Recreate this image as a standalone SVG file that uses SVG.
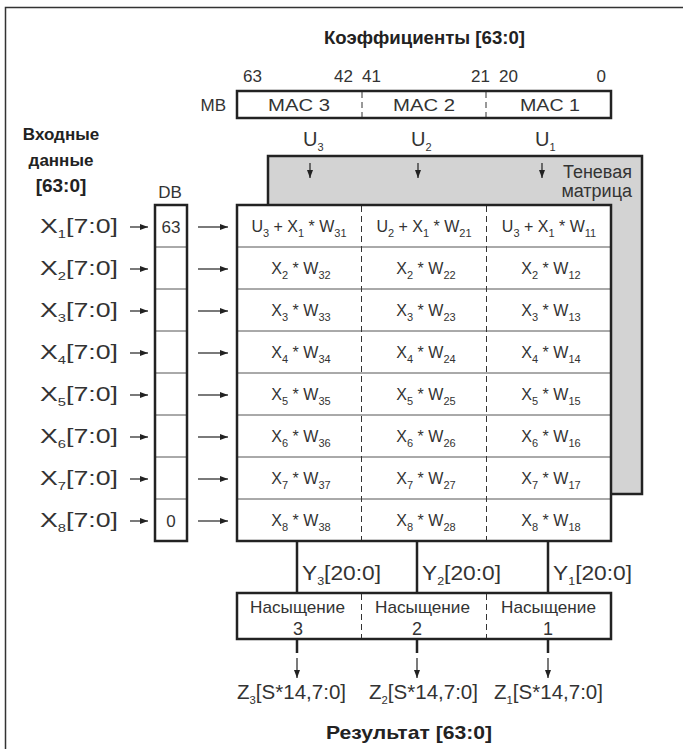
<svg xmlns="http://www.w3.org/2000/svg" width="683" height="749" viewBox="0 0 683 749">
<defs>
<marker id="ah" markerWidth="8" markerHeight="6" refX="8" refY="3" orient="auto" markerUnits="userSpaceOnUse">
<path d="M0,0 L8,3 L0,6 Z" fill="#222"/>
</marker>
<style>
text{font-family:"Liberation Sans",Arial,sans-serif;fill:#333;}
.t{font-size:17px;}
.c{font-size:16px;text-anchor:middle;}
.l{font-size:20px;}
.b{font-size:18px;font-weight:bold;fill:#222;}
.s{font-size:11px;}
.thick{fill:none;stroke:#222;stroke-width:2.5;}
.thin{stroke:#555;stroke-width:1;fill:none;}
.dash{stroke:#333;stroke-width:1;stroke-dasharray:6,4;fill:none;}
.arr{stroke:#222;stroke-width:1.2;fill:none;marker-end:url(#ah);}
</style>
</defs>
<rect width="683" height="749" fill="#fff"/>
<path d="M5.5,749 V7.5 H683" fill="none" stroke="#333" stroke-width="1.5"/>

<g id="title">
<text class="b" x="324" y="44" textLength="201" lengthAdjust="spacingAndGlyphs">Коэффициенты [63:0]</text>
</g>

<g id="mb">
<text class="t" x="243" y="82">63</text>
<text class="t" x="353" y="82" text-anchor="end">42</text>
<text class="t" x="362" y="82">41</text>
<text class="t" x="490" y="82" text-anchor="end">21</text>
<text class="t" x="499" y="82">20</text>
<text class="t" x="606" y="82" text-anchor="end">0</text>
<text class="t" x="226" y="111" text-anchor="end">MB</text>
<rect class="thick" x="237" y="91" width="374" height="27"/>
<line class="dash" x1="362" y1="92" x2="362" y2="117"/>
<line class="dash" x1="486" y1="92" x2="486" y2="117"/>
<text class="t" x="268" y="111" textLength="62" lengthAdjust="spacingAndGlyphs">MAC 3</text>
<text class="t" x="393" y="111" textLength="62" lengthAdjust="spacingAndGlyphs">MAC 2</text>
<text class="t" x="520" y="111" textLength="60" lengthAdjust="spacingAndGlyphs">MAC 1</text>
</g>

<g id="inlabel">
<text class="b" x="61" y="140" text-anchor="middle" style="font-size:17px">Входные</text>
<text class="b" x="61" y="166" text-anchor="middle" style="font-size:17px">данные</text>
<text class="b" x="61" y="192" text-anchor="middle" style="font-size:19px">[63:0]</text>
</g>

<g id="ulabels">
<text class="l" x="303" y="146">U<tspan class="s" dy="5">3</tspan></text>
<text class="l" x="411" y="146">U<tspan class="s" dy="5">2</tspan></text>
<text class="l" x="535" y="146">U<tspan class="s" dy="5">1</tspan></text>
</g>

<g id="shadow">
<rect x="268" y="156" width="374" height="338" fill="#d3d3d3" stroke="#222" stroke-width="2.5"/>
<text class="t" x="632" y="178" text-anchor="end" style="font-size:18px">Теневая</text>
<text class="t" x="632" y="197" text-anchor="end" style="font-size:18px">матрица</text>
</g>

<g id="db">
<text class="t" x="170" y="198" text-anchor="middle">DB</text>
<rect x="155" y="205" width="32" height="336" fill="#fff"/>
<path class="thin" d="M155,247H187M155,289H187M155,331H187M155,373H187M155,415H187M155,457H187M155,499H187"/>
<rect class="thick" x="155" y="205" width="32" height="336"/>
<text class="t" x="171" y="233" text-anchor="middle">63</text>
<text class="t" x="171" y="527" text-anchor="middle">0</text>
</g>

<g id="matrix">
<rect x="237" y="205" width="374" height="336" fill="#fff"/>
<path class="thin" d="M237,247H611M237,289H611M237,331H611M237,373H611M237,415H611M237,457H611M237,499H611"/>
<line class="dash" x1="361.5" y1="206" x2="361.5" y2="540"/>
<line class="dash" x1="486.5" y1="206" x2="486.5" y2="540"/>
<rect class="thick" x="237" y="205" width="374" height="336"/>
<text class="c" x="299" y="232">U<tspan class="s" dy="5">3</tspan><tspan dy="-5"> + X</tspan><tspan class="s" dy="5">1</tspan><tspan dy="-5"> * W</tspan><tspan class="s" dy="5">31</tspan></text>
<text class="c" x="424" y="232">U<tspan class="s" dy="5">2</tspan><tspan dy="-5"> + X</tspan><tspan class="s" dy="5">1</tspan><tspan dy="-5"> * W</tspan><tspan class="s" dy="5">21</tspan></text>
<text class="c" x="549" y="232">U<tspan class="s" dy="5">3</tspan><tspan dy="-5"> + X</tspan><tspan class="s" dy="5">1</tspan><tspan dy="-5"> * W</tspan><tspan class="s" dy="5">11</tspan></text>

<text class="c" x="301" y="274">X<tspan class="s" dy="5">2</tspan><tspan dy="-5"> * W</tspan><tspan class="s" dy="5">32</tspan></text>
<text class="c" x="426" y="274">X<tspan class="s" dy="5">2</tspan><tspan dy="-5"> * W</tspan><tspan class="s" dy="5">22</tspan></text>
<text class="c" x="551" y="274">X<tspan class="s" dy="5">2</tspan><tspan dy="-5"> * W</tspan><tspan class="s" dy="5">12</tspan></text>

<text class="c" x="301" y="316">X<tspan class="s" dy="5">3</tspan><tspan dy="-5"> * W</tspan><tspan class="s" dy="5">33</tspan></text>
<text class="c" x="426" y="316">X<tspan class="s" dy="5">3</tspan><tspan dy="-5"> * W</tspan><tspan class="s" dy="5">23</tspan></text>
<text class="c" x="551" y="316">X<tspan class="s" dy="5">3</tspan><tspan dy="-5"> * W</tspan><tspan class="s" dy="5">13</tspan></text>

<text class="c" x="301" y="358">X<tspan class="s" dy="5">4</tspan><tspan dy="-5"> * W</tspan><tspan class="s" dy="5">34</tspan></text>
<text class="c" x="426" y="358">X<tspan class="s" dy="5">4</tspan><tspan dy="-5"> * W</tspan><tspan class="s" dy="5">24</tspan></text>
<text class="c" x="551" y="358">X<tspan class="s" dy="5">4</tspan><tspan dy="-5"> * W</tspan><tspan class="s" dy="5">14</tspan></text>

<text class="c" x="301" y="400">X<tspan class="s" dy="5">5</tspan><tspan dy="-5"> * W</tspan><tspan class="s" dy="5">35</tspan></text>
<text class="c" x="426" y="400">X<tspan class="s" dy="5">5</tspan><tspan dy="-5"> * W</tspan><tspan class="s" dy="5">25</tspan></text>
<text class="c" x="551" y="400">X<tspan class="s" dy="5">5</tspan><tspan dy="-5"> * W</tspan><tspan class="s" dy="5">15</tspan></text>

<text class="c" x="301" y="442">X<tspan class="s" dy="5">6</tspan><tspan dy="-5"> * W</tspan><tspan class="s" dy="5">36</tspan></text>
<text class="c" x="426" y="442">X<tspan class="s" dy="5">6</tspan><tspan dy="-5"> * W</tspan><tspan class="s" dy="5">26</tspan></text>
<text class="c" x="551" y="442">X<tspan class="s" dy="5">6</tspan><tspan dy="-5"> * W</tspan><tspan class="s" dy="5">16</tspan></text>

<text class="c" x="301" y="484">X<tspan class="s" dy="5">7</tspan><tspan dy="-5"> * W</tspan><tspan class="s" dy="5">37</tspan></text>
<text class="c" x="426" y="484">X<tspan class="s" dy="5">7</tspan><tspan dy="-5"> * W</tspan><tspan class="s" dy="5">27</tspan></text>
<text class="c" x="551" y="484">X<tspan class="s" dy="5">7</tspan><tspan dy="-5"> * W</tspan><tspan class="s" dy="5">17</tspan></text>

<text class="c" x="301" y="526">X<tspan class="s" dy="5">8</tspan><tspan dy="-5"> * W</tspan><tspan class="s" dy="5">38</tspan></text>
<text class="c" x="426" y="526">X<tspan class="s" dy="5">8</tspan><tspan dy="-5"> * W</tspan><tspan class="s" dy="5">28</tspan></text>
<text class="c" x="551" y="526">X<tspan class="s" dy="5">8</tspan><tspan dy="-5"> * W</tspan><tspan class="s" dy="5">18</tspan></text>
</g>

<g id="xlabels">
<text class="l" x="40" y="233" textLength="78" lengthAdjust="spacingAndGlyphs">X<tspan class="s" dy="5">1</tspan><tspan dy="-5">[7:0]</tspan></text>
<text class="l" x="40" y="275" textLength="78" lengthAdjust="spacingAndGlyphs">X<tspan class="s" dy="5">2</tspan><tspan dy="-5">[7:0]</tspan></text>
<text class="l" x="40" y="317" textLength="78" lengthAdjust="spacingAndGlyphs">X<tspan class="s" dy="5">3</tspan><tspan dy="-5">[7:0]</tspan></text>
<text class="l" x="40" y="359" textLength="78" lengthAdjust="spacingAndGlyphs">X<tspan class="s" dy="5">4</tspan><tspan dy="-5">[7:0]</tspan></text>
<text class="l" x="40" y="401" textLength="78" lengthAdjust="spacingAndGlyphs">X<tspan class="s" dy="5">5</tspan><tspan dy="-5">[7:0]</tspan></text>
<text class="l" x="40" y="443" textLength="78" lengthAdjust="spacingAndGlyphs">X<tspan class="s" dy="5">6</tspan><tspan dy="-5">[7:0]</tspan></text>
<text class="l" x="40" y="485" textLength="78" lengthAdjust="spacingAndGlyphs">X<tspan class="s" dy="5">7</tspan><tspan dy="-5">[7:0]</tspan></text>
<text class="l" x="40" y="527" textLength="78" lengthAdjust="spacingAndGlyphs">X<tspan class="s" dy="5">8</tspan><tspan dy="-5">[7:0]</tspan></text>
</g>

<g id="ybox">
<path class="thick" d="M297,541V593M417,541V593M548,541V593"/>
<text class="l" x="302" y="580" textLength="79" lengthAdjust="spacingAndGlyphs">Y<tspan class="s" dy="5">3</tspan><tspan dy="-5">[20:0]</tspan></text>
<text class="l" x="422" y="580" textLength="79" lengthAdjust="spacingAndGlyphs">Y<tspan class="s" dy="5">2</tspan><tspan dy="-5">[20:0]</tspan></text>
<text class="l" x="553" y="580" textLength="79" lengthAdjust="spacingAndGlyphs">Y<tspan class="s" dy="5">1</tspan><tspan dy="-5">[20:0]</tspan></text>
</g>

<g id="sat">
<rect class="thick" x="237" y="593" width="374" height="46" fill="#fff"/>
<line class="dash" x1="361.5" y1="594" x2="361.5" y2="638"/>
<line class="dash" x1="486.5" y1="594" x2="486.5" y2="638"/>
<text class="t" x="250" y="613" textLength="95" lengthAdjust="spacingAndGlyphs">Насыщение</text>
<text class="t" x="298" y="635" text-anchor="middle" style="font-size:18px">3</text>
<text class="t" x="375" y="613" textLength="95" lengthAdjust="spacingAndGlyphs">Насыщение</text>
<text class="t" x="417" y="635" text-anchor="middle" style="font-size:18px">2</text>
<text class="t" x="501" y="613" textLength="95" lengthAdjust="spacingAndGlyphs">Насыщение</text>
<text class="t" x="548" y="635" text-anchor="middle" style="font-size:18px">1</text>
</g>

<g id="outputs">
<text class="l" x="237" y="699" textLength="109" lengthAdjust="spacingAndGlyphs">Z<tspan class="s" dy="5">3</tspan><tspan dy="-5">[S*14,7:0]</tspan></text>
<text class="l" x="369" y="699" textLength="109" lengthAdjust="spacingAndGlyphs">Z<tspan class="s" dy="5">2</tspan><tspan dy="-5">[S*14,7:0]</tspan></text>
<text class="l" x="494" y="699" textLength="109" lengthAdjust="spacingAndGlyphs">Z<tspan class="s" dy="5">1</tspan><tspan dy="-5">[S*14,7:0]</tspan></text>
<text class="b" x="326" y="739" textLength="166" lengthAdjust="spacingAndGlyphs" style="font-size:19px">Результат [63:0]</text>
</g>

<g id="connectors">
<line class="arr" x1="130" y1="227" x2="148" y2="227"/>
<line class="arr" x1="130" y1="269" x2="148" y2="269"/>
<line class="arr" x1="130" y1="311" x2="148" y2="311"/>
<line class="arr" x1="130" y1="353" x2="148" y2="353"/>
<line class="arr" x1="130" y1="395" x2="148" y2="395"/>
<line class="arr" x1="130" y1="437" x2="148" y2="437"/>
<line class="arr" x1="130" y1="479" x2="148" y2="479"/>
<line class="arr" x1="130" y1="521" x2="148" y2="521"/>
<line class="arr" x1="198" y1="227" x2="228" y2="227"/>
<line class="arr" x1="198" y1="269" x2="228" y2="269"/>
<line class="arr" x1="198" y1="311" x2="228" y2="311"/>
<line class="arr" x1="198" y1="353" x2="228" y2="353"/>
<line class="arr" x1="198" y1="395" x2="228" y2="395"/>
<line class="arr" x1="198" y1="437" x2="228" y2="437"/>
<line class="arr" x1="198" y1="479" x2="228" y2="479"/>
<line class="arr" x1="198" y1="521" x2="228" y2="521"/>
<line class="arr" x1="310" y1="163" x2="310" y2="178"/>
<line class="arr" x1="418" y1="163" x2="418" y2="178"/>
<line class="arr" x1="542" y1="163" x2="542" y2="178"/>
<path class="thick" d="M297,639V653M417,639V653M548,639V653"/>
<line class="arr" x1="297" y1="658" x2="297" y2="678"/>
<line class="arr" x1="417" y1="658" x2="417" y2="678"/>
<line class="arr" x1="548" y1="658" x2="548" y2="678"/>
</g>
</svg>
